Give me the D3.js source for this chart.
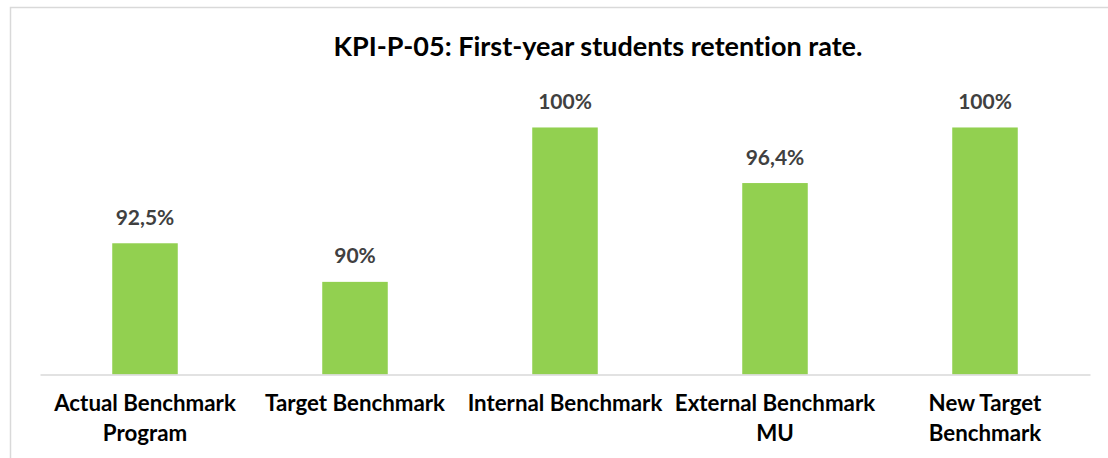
<!DOCTYPE html>
<html>
<head>
<meta charset="utf-8">
<script src="https://cdn.jsdelivr.net/npm/d3@7"></script>
<style>
  html, body { margin: 0; padding: 0; background: #fff; }
  svg { display: block; font-family: Lato, "Open Sans", sans-serif; font-variant-ligatures: none; font-feature-settings: "liga" 0, "dlig" 0; }
</style>
</head>
<body>
<div id="grafica"></div>
<script>
// datos
const categories = ["Actual Benchmark Program", "Target Benchmark", "Internal Benchmark", "External Benchmark MU", "New Target Benchmark"];
const tickLabels = [["Actual Benchmark", "Program"], ["Target Benchmark"], ["Internal Benchmark"], ["External Benchmark", "MU"], ["New Target", "Benchmark"]];
const values = [92.5, 90, 100, 96.4, 100];
const valueLabels = ["92,5%", "90%", "100%", "96,4%", "100%"];
const title = "KPI-P-05: First-year students retention rate.";

// dimensiones
let width = 1108
let height = 458
let left = 40, right = 1090
let baseY = 374.5, topY = 96.6

let svg = d3.select("#grafica")
  .append("svg")
    .attr("width", width)
    .attr("height", height)

// marco del grafico
svg.append("rect")
  .attr("x", 10.5).attr("y", 7.5)
  .attr("width", 1200).attr("height", 600)
  .attr("fill", "#fff")
  .attr("stroke", "#d9d9d9")
  .attr("stroke-width", 1.5)

let x = d3.scaleBand()
  .domain(categories)
  .range([left, right])
  .paddingInner(0.688)
  .paddingOuter(0.344)

let y = d3.scaleLinear()
  .domain([84, 102])
  .range([baseY, topY])

svg.append("text")
  .attr("x", 598).attr("y", 56)
  .attr("text-anchor", "middle")
  .attr("font-weight", "bold")
  .attr("font-size", 27)
  .attr("fill", "#000")
  .text(title)

svg.selectAll(".bar")
  .data(values)
  .enter()
  .append("rect")
    .attr("class", "bar")
    .attr("x", (d, i) => x(categories[i]))
    .attr("width", x.bandwidth())
    .attr("y", d => y(d))
    .attr("height", d => y(84) - y(d))
    .attr("fill", "#92d050")

svg.selectAll(".val")
  .data(values)
  .enter()
  .append("text")
    .attr("class", "val")
    .attr("x", (d, i) => x(categories[i]) + x.bandwidth() / 2)
    .attr("y", d => y(d) - 18.5)
    .attr("text-anchor", "middle")
    .attr("font-weight", "bold")
    .attr("font-size", 21)
    .attr("fill", "#404040")
    .text((d, i) => valueLabels[i])

// eje x
let xAxis = svg.append("g")
  .attr("transform", "translate(0," + baseY + ")")
  .call(d3.axisBottom(x).tickSize(0).tickFormat(""))
xAxis.select(".domain").attr("stroke", "#d9d9d9").attr("stroke-width", 1.3)

let ticks = svg.selectAll(".cat")
  .data(categories)
  .enter()
  .append("text")
    .attr("class", "cat")
    .attr("x", d => x(d) + x.bandwidth() / 2)
    .attr("y", 411)
    .attr("text-anchor", "middle")
    .attr("font-weight", "bold")
    .attr("font-size", 22.3)
    .attr("fill", "#000")

ticks.selectAll("tspan")
  .data((d, i) => tickLabels[i])
  .enter()
  .append("tspan")
    .attr("x", function () { return this.parentNode.getAttribute("x") })
    .attr("dy", (d, j) => j === 0 ? 0 : 30)
    .text(d => d)
</script>
</body>
</html>
